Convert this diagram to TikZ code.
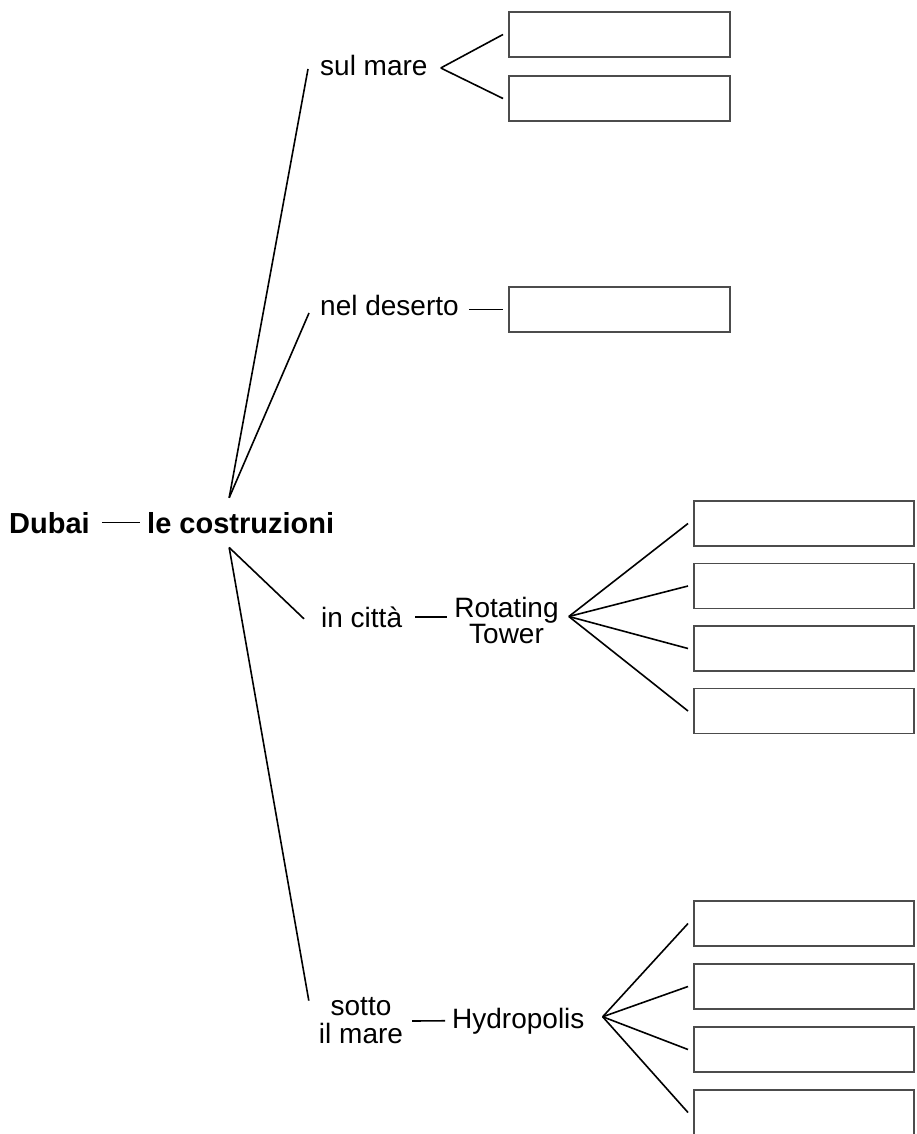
\documentclass[tikz,border=0pt]{standalone}
\usepackage{fontspec}
\setmainfont{Liberation Sans}
\usepackage{tikz}

\begin{document}
\begin{tikzpicture}[x=1pt,y=-1pt,
  head/.style={font=\fontsize{29}{29}\selectfont\bfseries,inner sep=0pt,anchor=base west},
  lbl/.style={font=\fontsize{28}{28}\selectfont,inner sep=0pt,anchor=base west},
  twoline/.style={inner sep=0pt,align=center},
  box/.style={draw=black!70,line width=1.4pt,minimum width=221pt,
    minimum height=45pt,inner sep=0pt,outer sep=6pt},
  link/.style={line width=1.6pt}]
\useasboundingbox (0,0) rectangle (916,1134);
\node[head] (dubai) at (9,533) {Dubai};
\node[head] (cost) at (147,533) {le costruzioni};
\node[lbl] (sul) at (320,76) {sul mare};
\node[lbl] (deserto) at (320,315) {nel deserto};
\node[lbl] (citta) at (321,627) {in città};
\node[twoline,font=\fontsize{28}{25}\selectfont] (rot) at (506.5,620.5) {Rotating\\Tower};
\node[twoline,font=\fontsize{28}{28}\selectfont] (sotto) at (361,1021) {sotto\\il mare};
\node[lbl] (hydro) at (452,1028) {Hydropolis};
\node[box] (s1) at (619.5,34.5) {};
\node[box] (s2) at (619.5,98.5) {};
\node[box] (d1) at (619.5,309.5) {};
\node[box,minimum width=220pt] (r1) at (804,523.5) {};
\node[box,minimum width=220pt] (r2) at (804,586) {};
\node[box,minimum width=220pt] (r3) at (804,648.5) {};
\node[box,minimum width=220pt] (r4) at (804,711) {};
\node[box,minimum width=220pt] (h1) at (804,923.5) {};
\node[box,minimum width=220pt] (h2) at (804,986.5) {};
\node[box,minimum width=220pt] (h3) at (804,1049.5) {};
\node[box,minimum width=220pt] (h4) at (804,1112.5) {};
% branching points
\coordinate (costN) at ([xshift=-11.5pt,yshift=14pt]cost.north);
\coordinate (costS) at ([xshift=-11.5pt,yshift=-14pt]cost.south);
\coordinate (sulV) at ([xshift=13pt,yshift=-2pt]sul.east);
\coordinate (rotV) at ([xshift=10pt,yshift=4pt]rot.east);
\coordinate (hydroV) at ([xshift=18pt,yshift=4pt]hydro.east);
\draw[link] ([xshift=12pt]dubai.east) -- ([xshift=-7pt]cost.west);
\draw[link] (costN) -- ([xshift=-12pt,yshift=-3pt]sul.west);
\draw[link] (costN) -- ([xshift=-11pt,yshift=-8pt]deserto.west);
\draw[link] (costS) -- ([xshift=-17pt,yshift=-2pt]citta.west);
\draw[link] (costS) -- ([xshift=-10pt,yshift=-3pt]sotto.north west);
\draw[link] (sulV) -- (s1.west);
\draw[link] (sulV) -- (s2.west);
\draw[link] ([xshift=10pt]deserto.east |- d1.west) -- (d1.west);
\draw[link] ([xshift=13pt]citta.east) -- ([xshift=-7pt]rot.west |- citta.east);
\draw[link] (rotV) -- (r1.west);
\draw[link] (rotV) -- (r2.west);
\draw[link] (rotV) -- (r3.west);
\draw[link] (rotV) -- (r4.west);
\draw[link] ([xshift=9pt]sotto.east) -- ([xshift=-7pt]hydro.west);
\draw[link] (hydroV) -- (h1.west);
\draw[link] (hydroV) -- (h2.west);
\draw[link] (hydroV) -- (h3.west);
\draw[link] (hydroV) -- (h4.west);
\end{tikzpicture}
\end{document}
